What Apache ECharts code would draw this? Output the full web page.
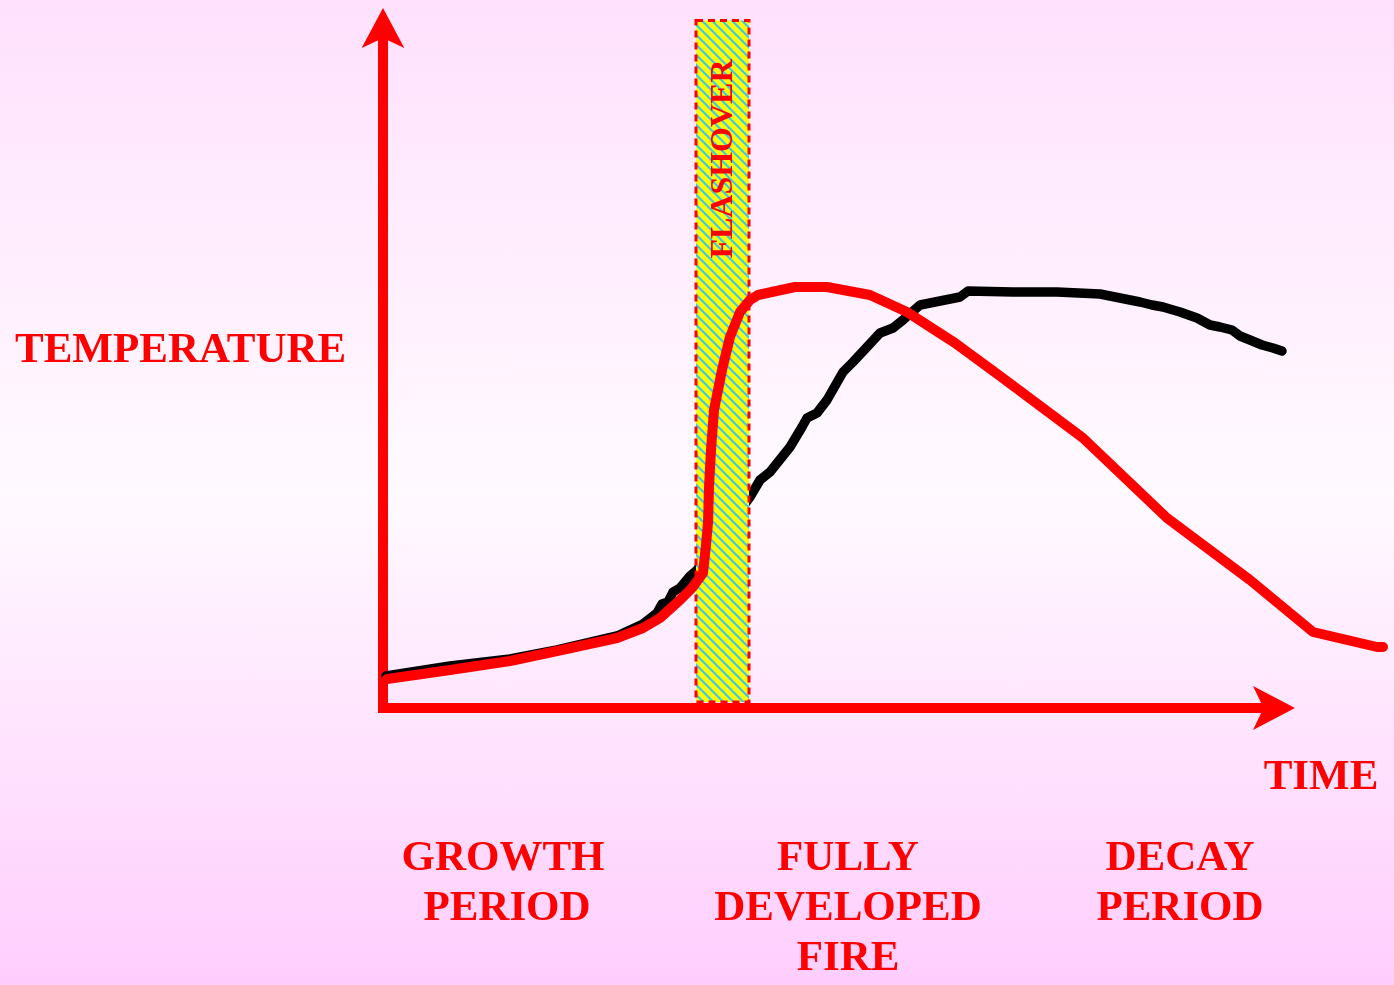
<!DOCTYPE html>
<html>
<head>
<meta charset="utf-8">
<title>Fire development curve</title>
<script src="https://cdn.jsdelivr.net/npm/echarts@6/dist/echarts.min.js"></script>
<style>
  html, body { margin: 0; padding: 0; }
  body { background: linear-gradient(to bottom, #ffe1fd 0%, #fffaff 50%, #ffcdfd 100%); }
  #chart { width: 1394px; height: 985px; }
</style>
</head>
<body>
<div id="chart"></div>
<script>
// black curve (time, temperature) - arbitrary units
var blackTime = [0.3, 6.7, 12.7, 17.4, 23.4, 26.0, 27.4, 27.9, 28.5, 29.0, 29.7, 30.7, 31.4,
  36.7, 37.7, 38.7, 40.7, 41.9, 42.4, 43.4, 44.4, 46.0, 47.0, 48.4, 49.7, 51.0, 52.0, 53.7,
  57.7, 58.5, 63.0, 67.4, 71.7, 75.7, 76.9, 78.0, 79.7, 81.4, 82.7, 83.7, 84.9, 85.7, 86.7,
  87.9, 89.0, 89.9];
var blackTemp = [3.2, 4.2, 4.9, 5.8, 7.2, 8.4, 9.5, 10.4, 10.6, 11.6, 12.0, 13.2, 13.8,
  21.1, 22.8, 23.6, 26.1, 28.1, 29.0, 29.5, 30.8, 33.6, 34.6, 36.1, 37.5, 38.0, 38.8, 40.3,
  41.1, 41.7, 41.6, 41.6, 41.4, 40.6, 40.3, 40.1, 39.6, 39.0, 38.3, 38.1, 37.8, 37.2, 36.8,
  36.3, 36.0, 35.7];

// red curve
var redTime = [0.4, 6.7, 12.7, 17.4, 23.4, 26.0, 27.7, 29.7, 30.9, 32.0, 32.3, 32.5, 32.6,
  32.8, 33.1, 33.9, 34.7, 35.7, 36.7, 37.5, 41.2, 44.4, 48.7, 52.4, 57.2, 61.7, 70.0, 78.4,
  86.7, 93.0, 99.4, 100.0];
var redTemp = [2.9, 3.8, 4.7, 5.7, 7.0, 8.0, 9.0, 10.8, 12.0, 13.5, 16.3, 18.5, 22.1,
  25.8, 29.8, 33.8, 37.1, 39.6, 40.8, 41.3, 42.1, 42.1, 41.3, 39.6, 36.5, 33.2, 27.0, 19.0,
  12.8, 7.6, 6.1, 6.1];

// flashover band: [start, end, top]
var flashoverBand = [31.3, 36.6, 68.75];

// axis extents: the drawn axes stop under the arrow, the curves run further right
var axisTimeMax = 90.2;
var plotTimeMax = 101;
var tempMax = 69;

function pairs(xs, ys) {
  return xs.map(function (x, i) { return [x, ys[i]]; });
}

// diagonal yellow / blue stripes
function stripes() {
  var size = 10, ss = 4, band = 3;
  var c = document.createElement('canvas');
  c.width = size; c.height = size;
  var ctx = c.getContext('2d');
  var img = ctx.createImageData(size, size);
  for (var y = 0; y < size; y++) {
    for (var x = 0; x < size; x++) {
      var hit = 0;
      for (var sy = 0; sy < ss; sy++) {
        for (var sx = 0; sx < ss; sx++) {
          var u = (x + (sx + 0.5) / ss) - (y + (sy + 0.5) / ss);
          u = ((u % size) + size) % size;
          if (u < band) hit++;
        }
      }
      var t = hit / (ss * ss);
      var k = (y * size + x) * 4;
      img.data[k] = Math.round(255 * (1 - t) + 56 * t);
      img.data[k + 1] = Math.round(255 * (1 - t) + 200 * t);
      img.data[k + 2] = Math.round(240 * t);
      img.data[k + 3] = 255;
    }
  }
  ctx.putImageData(img, 0, 0);
  return c;
}

var font = '"Liberation Serif", "Times New Roman", serif';
function label(text, x, y) {
  return {
    type: 'text', x: x, y: y, z: 10,
    style: {
      text: text, fill: '#ff0000', font: 'bold 43px ' + font,
      textAlign: 'center', textVerticalAlign: 'middle'
    }
  };
}

var hidden = {
  axisLine: { show: false }, axisTick: { show: false },
  axisLabel: { show: false }, splitLine: { show: false }
};
function arrowAxis(min, max, size) {
  return {
    type: 'value', gridIndex: 0, min: min, max: max,
    axisLine: {
      show: true, onZero: true, symbol: ['none', 'arrow'], symbolSize: size,
      symbolOffset: [0, 10],
      lineStyle: { color: '#ff0000', width: 10, cap: 'butt' }
    },
    axisTick: { show: false }, axisLabel: { show: false }, splitLine: { show: false }
  };
}

var chart = echarts.init(document.getElementById('chart'));
var pattern = { image: stripes(), repeat: 'repeat' };

chart.setOption({
  animation: false,
  backgroundColor: 'transparent',
  grid: [
    { left: 378, right: 109, top: 18, bottom: 277 },
    { left: 378, right: 1, top: 18, bottom: 277 }
  ],
  xAxis: [
    arrowAxis(-0.5, axisTimeMax, [33, 42]),
    Object.assign({ type: 'value', gridIndex: 1, min: -0.5, max: plotTimeMax }, hidden)
  ],
  yAxis: [
    arrowAxis(0, tempMax, [32, 40]),
    Object.assign({ type: 'value', gridIndex: 1, min: 0, max: tempMax }, hidden)
  ],
  series: [
    {
      type: 'line', z: 1, silent: true, xAxisIndex: 1, yAxisIndex: 1,
      data: pairs(blackTime, blackTemp),
      symbol: 'none',
      lineStyle: { color: '#000000', width: 9.5, cap: 'round', join: 'round' }
    },
    {
      type: 'custom', z: 2, silent: true, xAxisIndex: 1, yAxisIndex: 1,
      data: [flashoverBand],
      renderItem: function (params, api) {
        var p0 = api.coord([api.value(0), api.value(2)]);
        var p1 = api.coord([api.value(1), 0.6]);
        return {
          type: 'rect',
          shape: { x: p0[0], y: p0[1], width: p1[0] - p0[0], height: p1[1] - p0[1] },
          style: { fill: pattern, stroke: '#ff0000', lineWidth: 3, lineDash: [7, 5] }
        };
      }
    },
    {
      type: 'line', z: 3, silent: true, xAxisIndex: 1, yAxisIndex: 1,
      data: pairs(redTime, redTemp),
      symbol: 'none',
      lineStyle: { color: '#ff0000', width: 10, cap: 'round', join: 'round' }
    }
  ],
  graphic: [
    {
      type: 'text', x: 724, y: 159, rotation: Math.PI / 2, z: 10,
      style: {
        text: 'FLASHOVER', fill: '#ff0000', font: 'bold 32px ' + font,
        textAlign: 'center', textVerticalAlign: 'middle'
      }
    },
    {
      type: 'text', x: 15, y: 351, z: 10,
      style: {
        text: 'TEMPERATURE', fill: '#ff0000', font: 'bold 43px ' + font,
        textAlign: 'left', textVerticalAlign: 'middle'
      }
    },
    label('TIME', 1321, 778),
    label('GROWTH', 503, 859),
    label('PERIOD', 507, 909),
    label('FULLY', 848, 859),
    label('DEVELOPED', 848, 909),
    label('FIRE', 848, 959),
    label('DECAY', 1180, 859),
    label('PERIOD', 1180, 909)
  ]
});
</script>
</body>
</html>
